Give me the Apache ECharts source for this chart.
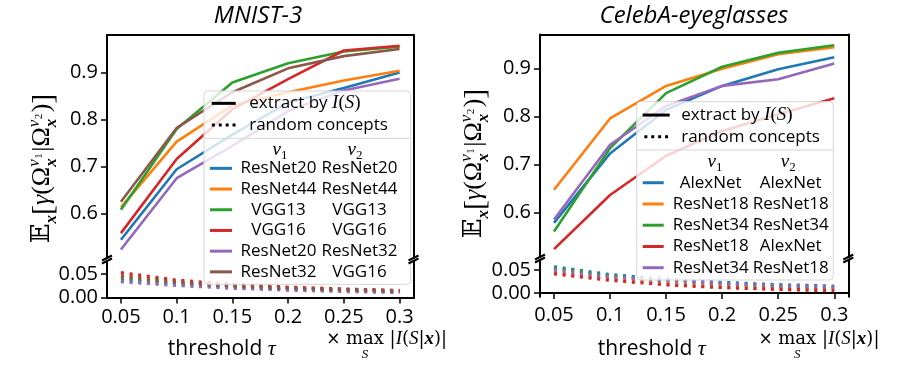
<!DOCTYPE html>
<html><head><meta charset="utf-8">
<script src="https://cdn.jsdelivr.net/npm/echarts@6/dist/echarts.min.js"></script>
<style>html,body{margin:0;padding:0;background:#fff}#c{width:899px;height:366px}</style>
</head><body><div id="c"></div>
<script>
// ---------- data ----------
const thresholds = [0.05, 0.1, 0.15, 0.2, 0.25, 0.3];
const xTickLabels = ['0.05', '0.1', '0.15', '0.2', '0.25', '0.3'];
const yTopTicks = [0.6, 0.7, 0.8, 0.9];
const yBottomTicks = [0.0, 0.05];

// MNIST-3 (v1 | v2)
const mnistV1 = ['ResNet20', 'ResNet44', 'VGG13', 'VGG16', 'ResNet20', 'ResNet32'];
const mnistV2 = ['ResNet20', 'ResNet44', 'VGG13', 'VGG16', 'ResNet32', 'VGG16'];
const mnistR20R20 = [0.544, 0.694, 0.768, 0.836, 0.867, 0.900];
const mnistR44R44 = [0.613, 0.753, 0.830, 0.858, 0.883, 0.904];
const mnistV13V13 = [0.608, 0.780, 0.879, 0.920, 0.945, 0.955];
const mnistV16V16 = [0.558, 0.716, 0.822, 0.886, 0.947, 0.957];
const mnistR20R32 = [0.523, 0.675, 0.744, 0.818, 0.862, 0.887];
const mnistR32V16 = [0.625, 0.782, 0.858, 0.909, 0.935, 0.950];
const mnistRandR20R20 = [0.037, 0.028, 0.022, 0.018, 0.015, 0.013];
const mnistRandR44R44 = [0.047, 0.034, 0.026, 0.021, 0.017, 0.014];
const mnistRandV13V13 = [0.042, 0.031, 0.024, 0.019, 0.016, 0.013];
const mnistRandV16V16 = [0.053, 0.037, 0.028, 0.022, 0.018, 0.015];
const mnistRandR20R32 = [0.034, 0.026, 0.020, 0.016, 0.013, 0.011];
const mnistRandR32V16 = [0.045, 0.033, 0.025, 0.020, 0.017, 0.014];

// CelebA-eyeglasses (v1 | v2)
const celebV1 = ['AlexNet', 'ResNet18', 'ResNet34', 'ResNet18', 'ResNet34'];
const celebV2 = ['AlexNet', 'ResNet18', 'ResNet34', 'AlexNet', 'ResNet18'];
const celebAlexAlex = [0.578, 0.723, 0.814, 0.864, 0.899, 0.924];
const celebR18R18 = [0.647, 0.796, 0.864, 0.900, 0.930, 0.945];
const celebR34R34 = [0.560, 0.734, 0.849, 0.904, 0.933, 0.949];
const celebR18Alex = [0.523, 0.636, 0.718, 0.770, 0.805, 0.838];
const celebR34R18 = [0.585, 0.741, 0.822, 0.864, 0.878, 0.911];
const celebRandAlexAlex = [0.057, 0.040, 0.030, 0.023, 0.018, 0.015];
const celebRandR18R18 = [0.045, 0.030, 0.020, 0.013, 0.009, 0.006];
const celebRandR34R34 = [0.055, 0.037, 0.027, 0.020, 0.015, 0.011];
const celebRandR18Alex = [0.042, 0.028, 0.018, 0.012, 0.008, 0.005];
const celebRandR34R18 = [0.050, 0.035, 0.027, 0.021, 0.016, 0.013];

const palette = ['#1f77b4', '#ff7f0e', '#2ca02c', '#d62728', '#9467bd', '#8c564b'];
const mnistExtract = [mnistR20R20, mnistR44R44, mnistV13V13, mnistV16V16, mnistR20R32, mnistR32V16];
const mnistRandom = [mnistRandR20R20, mnistRandR44R44, mnistRandV13V13, mnistRandV16V16, mnistRandR20R32, mnistRandR32V16];
const celebExtract = [celebAlexAlex, celebR18R18, celebR34R34, celebR18Alex, celebR34R18];
const celebRandom = [celebRandAlexAlex, celebRandR18R18, celebRandR34R34, celebRandR18Alex, celebRandR34R18];

// ---------- layout ----------
const L = { left: 107, width: 306.5, upTop: 35, upH: 223, loTop: 261, loH: 37,
  upMin: 0.505, upMax: 0.98, loMin: -0.001, loMax: 0.078 };
const R = { left: 540, width: 308.3, upTop: 34.5, upH: 222.5, loTop: 260, loH: 36.7,
  upMin: 0.5066, upMax: 0.9714, loMin: -0.008, loMax: 0.072 };
const XMIN = 0.0375, XMAX = 0.3125;

const TICK_FONT = 'Open Sans';
const SANS = 'Open Sans';
const SERIF = 'Liberation Serif';
const MSERIF = 'DejaVu Serif';

function pairs(arr) { return thresholds.map((t, i) => [t, arr[i]]); }

const grids = [
  { left: L.left, top: L.upTop, width: L.width, height: L.upH },
  { left: L.left, top: L.loTop, width: L.width, height: L.loH },
  { left: R.left, top: R.upTop, width: R.width, height: R.upH },
  { left: R.left, top: R.loTop, width: R.width, height: R.loH }
].map(g => Object.assign(g, { containLabel: false, outerBoundsMode: 'none' }));

const lineAx = { show: true, lineStyle: { color: '#000', width: 2 } };
function xAxisDef(gi, bottom) {
  return {
    type: 'value', gridIndex: gi, min: XMIN, max: XMAX, position: bottom ? 'bottom' : 'top',
    axisLine: lineAx, splitLine: { show: false },
    axisTick: bottom ? { show: true, length: 6, lineStyle: { width: 1.5, color: '#000' }, customValues: thresholds } : { show: false },
    axisLabel: bottom ? { show: true, customValues: thresholds, margin: 9,
      formatter: v => xTickLabels[thresholds.findIndex(t => Math.abs(t - v) < 1e-9)] || '',
      fontFamily: TICK_FONT, fontSize: 20, color: '#000' } : { show: false }
  };
}
function yAxisDef(gi, min, max, ticks, right, fmt) {
  return {
    type: 'value', gridIndex: gi, min: min, max: max, position: right ? 'right' : 'left',
    axisLine: lineAx, splitLine: { show: false },
    axisTick: right ? { show: false } : { show: true, length: 6, lineStyle: { width: 1.5, color: '#000' }, customValues: ticks },
    axisLabel: right ? { show: false } : { show: true, customValues: ticks, margin: 9, formatter: fmt,
      fontFamily: TICK_FONT, fontSize: 20, color: '#000' }
  };
}
const fmtTop = v => v.toFixed(1);
const fmtLo = v => v.toFixed(2);

const xAxes = [xAxisDef(0, false), xAxisDef(1, true), xAxisDef(2, false), xAxisDef(3, true)];
const yAxes = [
  yAxisDef(0, L.upMin, L.upMax, yTopTicks, false, fmtTop),
  yAxisDef(1, L.loMin, L.loMax, yBottomTicks, false, fmtLo),
  yAxisDef(2, R.upMin, R.upMax, yTopTicks, false, fmtTop),
  yAxisDef(3, R.loMin, R.loMax, yBottomTicks, false, fmtLo),
  yAxisDef(0, L.upMin, L.upMax, yTopTicks, true, fmtTop),
  yAxisDef(1, L.loMin, L.loMax, yBottomTicks, true, fmtLo),
  yAxisDef(2, R.upMin, R.upMax, yTopTicks, true, fmtTop),
  yAxisDef(3, R.loMin, R.loMax, yBottomTicks, true, fmtLo)
];

const DOT = [3, 5.7];
const series = [];
function addSet(v1, v2, ext, rnd, upIdx, loIdx, tag) {
  const names = v1.map((a, i) => a + '|' + v2[i] + '|' + tag);
  ext.forEach((arr, i) => series.push({ type: 'line', name: names[i], xAxisIndex: upIdx, yAxisIndex: upIdx,
    data: pairs(arr), symbol: 'none', lineStyle: { color: palette[i], width: 2.6 }, itemStyle: { color: palette[i] }, z: 2 + i * 0.01 }));
  rnd.forEach((arr, i) => series.push({ type: 'line', name: 'rnd-' + names[i], xAxisIndex: loIdx, yAxisIndex: loIdx,
    data: pairs(arr), symbol: 'none', lineStyle: { color: palette[i], width: 3.4, type: DOT, cap: 'butt' }, z: 2 + i * 0.01 }));
  series.push({ type: 'line', name: 'extract-' + tag, xAxisIndex: upIdx, yAxisIndex: upIdx, data: [], symbol: 'none',
    lineStyle: { color: '#000', width: 2.6 }, itemStyle: { color: '#000' } });
  series.push({ type: 'line', name: 'random-' + tag, xAxisIndex: upIdx, yAxisIndex: upIdx, data: [], symbol: 'none',
    lineStyle: { color: '#000', width: 2.6, type: DOT }, itemStyle: { color: '#000' } });
  return names;
}
const mnistNames = addSet(mnistV1, mnistV2, mnistExtract, mnistRandom, 0, 1, 'L');
const celebNames = addSet(celebV1, celebV2, celebExtract, celebRandom, 2, 3, 'R');

// ---------- legends ----------
const DOT_ICON = 'path://M0,0h3v3h-3zM6.9,0h3v3h-3zM13.8,0h3v3h-3zM20.7,0h3v3h-3z';
function rowLegend(names, left, top, iw, w1, w2, lh) {
  return {
    data: names, orient: 'vertical', left: left, top: top, itemWidth: iw, itemHeight: 3, itemGap: 0,
    padding: 0, selectedMode: false, z: 20, icon: 'rect',
    formatter: n => { const p = n.split('|'); return '{a|' + p[0] + '}{b|' + p[1] + '}'; },
    textStyle: { fontFamily: SANS, fontSize: 17, color: '#000', lineHeight: lh,
      rich: { a: { width: w1, align: 'center', fontFamily: SANS, fontSize: 17, lineHeight: lh, color: '#000' },
              b: { width: w2, align: 'center', fontFamily: SANS, fontSize: 17, lineHeight: lh, color: '#000' } } }
  };
}
function headLegend(tag, left, top, iw, gap, lh) {
  return {
    data: [{ name: 'extract-' + tag, icon: 'rect' }, { name: 'random-' + tag, icon: DOT_ICON }],
    orient: 'vertical', left: left, top: top, itemWidth: iw, itemHeight: 3,
    itemGap: 0, padding: 0, selectedMode: false, z: 20,
    formatter: n => n.startsWith('extract') ? '{sp| }{h|extract by }{i|I}{p|(}{i|S}{p|)}' : '{sp| }{h|random concepts}',
    textStyle: { fontFamily: SANS, fontSize: 17, color: '#000', lineHeight: lh,
      rich: { sp: { width: gap, lineHeight: lh }, h: { fontFamily: SANS, fontSize: 17, lineHeight: lh, color: '#000' },
              i: { fontFamily: SERIF, fontStyle: 'italic', fontSize: 19, lineHeight: lh, color: '#000' },
              p: { fontFamily: SERIF, fontSize: 19, lineHeight: lh, color: '#000' } } }
  };
}
const legends = [
  headLegend('L', 211.7, 92.5, 24, 8.5, 21.7),
  rowLegend(mnistNames, 210, 158, 22, 83, 79, 20.7),
  headLegend('R', 642.7, 104.2, 27, 6.5, 21.7),
  rowLegend(celebNames, 642.7, 172.1, 21, 84, 76, 21.25)
];

// ---------- math text helper ----------
const mctx = document.createElement('canvas').getContext('2d');
function buildMath(parts, cx, cy, rot, z) {
  let x = 0, lastStart = 0, lastW = 0; const els = [];
  parts.forEach(p => {
    const st = p.style || 'normal', wt = p.weight || 'normal';
    mctx.font = st + ' ' + wt + ' ' + p.size + 'px "' + p.family + '"';
    const w = mctx.measureText(p.t).width;
    let px = p.under ? lastStart + lastW / 2 - w / 2 : x + (p.dx || 0);
    els.push({ type: 'text', x: px, y: (p.dy || 0) - 0.33 * p.size, z: z, silent: true,
      style: { text: p.t, fontSize: p.size, fontFamily: p.family, fontStyle: st, fontWeight: wt,
        fill: '#000', align: 'left', verticalAlign: 'middle' } });
    if (!p.under) { lastStart = px; lastW = w; }
    x += (p.adv !== undefined ? p.adv : (p.under ? 0 : w));
  });
  els.forEach(e => { e.x -= x / 2; });
  return { type: 'group', x: cx, y: cy, rotation: rot || 0, children: els, z: z };
}
const ylabParts = [
  { t: '𝔼', size: 26, family: 'DejaVu Serif' },
  { t: 'x', size: 17, family: SERIF, style: 'italic', weight: 'bold', dy: 6 },
  { t: '[', size: 30, family: SERIF, dy: 3 },
  { t: 'γ', size: 26, family: SERIF, style: 'italic' },
  { t: '(', size: 26, family: SERIF },
  { t: 'Ω', size: 26, family: SERIF },
  { t: 'v', size: 17, family: SERIF, style: 'italic', dy: -11, adv: 0 },
  { t: '1', size: 11, family: SERIF, dy: -8, dx: 8, adv: 0 },
  { t: 'x', size: 17, family: SERIF, style: 'italic', weight: 'bold', dy: 6, adv: 15 },
  { t: '|', size: 26, family: SERIF },
  { t: 'Ω', size: 26, family: SERIF },
  { t: 'v', size: 17, family: SERIF, style: 'italic', dy: -11, adv: 0 },
  { t: '2', size: 11, family: SERIF, dy: -8, dx: 8, adv: 0 },
  { t: 'x', size: 17, family: SERIF, style: 'italic', weight: 'bold', dy: 6, adv: 15 },
  { t: ')', size: 26, family: SERIF },
  { t: ']', size: 30, family: SERIF, dy: 3 }
];
const xlabParts = [
  { t: 'threshold ', size: 21, family: SANS },
  { t: 'τ', size: 22, family: SERIF, style: 'italic' }
];
const scaleParts = [
  { t: '× ', size: 17, family: 'DejaVu Sans' },
  { t: 'max', size: 18, family: MSERIF },
  { t: 'S', size: 13, family: SERIF, style: 'italic', under: true, dy: 14 },
  { t: ' |', size: 18, family: MSERIF },
  { t: 'I', size: 19, family: SERIF, style: 'italic' },
  { t: '(', size: 18, family: MSERIF },
  { t: 'S', size: 19, family: SERIF, style: 'italic' },
  { t: '|', size: 18, family: MSERIF },
  { t: 'x', size: 19, family: SERIF, style: 'italic', weight: 'bold' },
  { t: ')|', size: 18, family: MSERIF }
];
function vHeader(x, y, d) {
  return buildMath([
    { t: 'v', size: 19, family: SERIF, style: 'italic' },
    { t: d, size: 13, family: SERIF, dy: 4 }
  ], x, y, 0, 25);
}
function breakMarks(x, yUp, yLo) {
  return [yUp, yLo].map(y => ({ type: 'line', z: 30, silent: true,
    shape: { x1: x - 5, y1: y + 2.5, x2: x + 5, y2: y - 2.5 }, style: { stroke: '#000', lineWidth: 2 } }));
}
function legendBox(x, y, w, h, sep) {
  return [
    { type: 'rect', z: 10, silent: true, shape: { x: x, y: y, width: w, height: h, r: 4 },
      style: { fill: 'rgba(255,255,255,0.8)', stroke: '#d6d6d6', lineWidth: 1 } },
    { type: 'line', z: 11, silent: true, shape: { x1: x, y1: sep, x2: x + w, y2: sep },
      style: { stroke: '#d6d6d6', lineWidth: 1 } }
  ];
}
const graphics = [].concat(
  legendBox(204, 91, 206.7, 193.3, 138.3),
  legendBox(636.7, 101.7, 196.6, 178.3, 150),
  [vHeader(280, 156, '1'), vHeader(355, 156, '2'), vHeader(715, 168, '1'), vHeader(788.3, 168, '2')],
  breakMarks(L.left, L.upTop + L.upH, L.loTop), breakMarks(L.left + L.width, L.upTop + L.upH, L.loTop),
  breakMarks(R.left, R.upTop + R.upH, R.loTop), breakMarks(R.left + R.width, R.upTop + R.upH, R.loTop),
  [buildMath(ylabParts, 51, 168.5, Math.PI / 2, 5), buildMath(ylabParts, 483, 163.5, Math.PI / 2, 5),
   buildMath(xlabParts, 221.7, 356, 0, 5), buildMath(xlabParts, 651.7, 356, 0, 5),
   buildMath(scaleParts, 386.7, 345, 0, 5), buildMath(scaleParts, 819, 345, 0, 5)]
);

const chart = echarts.init(document.getElementById('c'), null, { renderer: 'canvas' });
chart.setOption({
  animation: false,
  backgroundColor: '#fff',
  title: [
    { text: 'MNIST-3', left: 258, top: 4, textAlign: 'center', padding: 0,
      textStyle: { fontFamily: SANS, fontStyle: 'italic', fontWeight: 'normal', fontSize: 24, color: '#000' } },
    { text: 'CelebA-eyeglasses', left: 694, top: 4, textAlign: 'center', padding: 0,
      textStyle: { fontFamily: SANS, fontStyle: 'italic', fontWeight: 'normal', fontSize: 24, color: '#000' } }
  ],
  grid: grids,
  xAxis: xAxes,
  yAxis: yAxes,
  legend: legends,
  series: series,
  graphic: graphics
});
</script></body></html>
